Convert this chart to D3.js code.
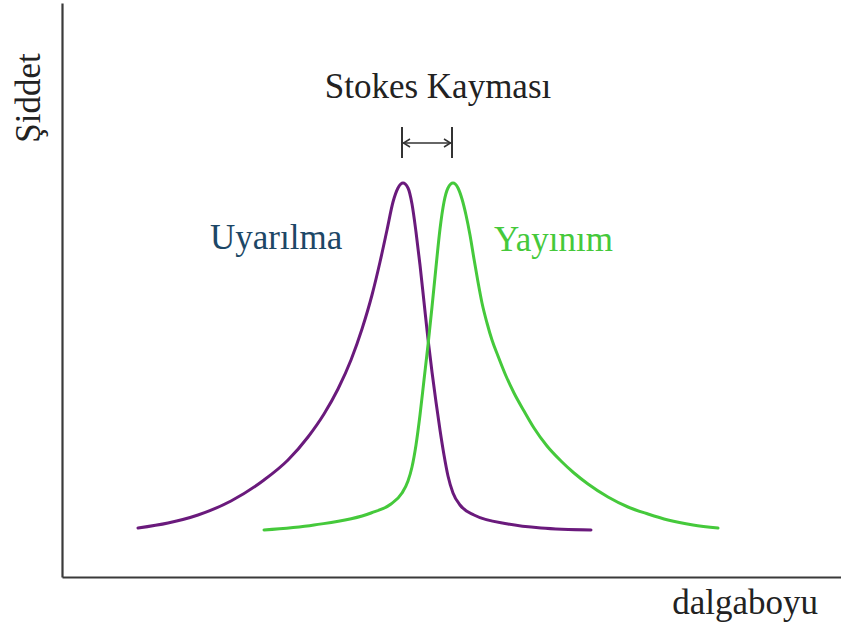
<!DOCTYPE html>
<html>
<head>
<meta charset="utf-8">
<script src="https://cdn.jsdelivr.net/npm/d3@7"></script>
<style>
  html, body { margin: 0; padding: 0; background: #fff; }
  svg { display: block; }
  text { font-family: "Liberation Serif", "Times New Roman", serif; }
</style>
</head>
<body>
<svg id="chart" width="841" height="630"></svg>
<script>
// Wavelength position (arbitrary units) and intensity (arbitrary units)
const excitationX = [76, 106, 136, 169, 202, 226, 246, 262, 276, 289, 300, 310, 318, 325, 331, 336, 341, 346, 350, 354, 358, 362, 366, 370, 374, 378, 382, 386, 391, 398, 412, 446, 479, 529];
const excitationY = [49, 54, 62, 76, 97, 117, 140, 163, 188, 217, 248, 282, 315, 347, 375, 389, 394, 389, 373, 345, 312, 275, 238, 205, 175, 147, 122, 101, 84, 72, 62, 53, 49, 47];

const emissionX = [202, 252, 309, 329, 340, 346, 350, 354, 358, 362, 366, 370, 374, 378, 382, 386, 391, 396, 400, 404, 408, 412, 416, 420, 425, 430, 436, 444, 452, 462, 472, 485, 499, 512, 526, 546, 566, 586, 606, 631, 656];
const emissionY = [47, 52, 64, 73, 84, 96, 110, 132, 162, 197, 232, 270, 310, 348, 375, 389, 394, 389, 378, 362, 342, 318, 295, 274, 254, 237, 221, 201, 184, 166, 149, 131, 116, 104, 93, 80, 70, 63, 57, 52, 49];

const seriesNames = ["Uyarılma", "Yayınım"];
const seriesColors = ["#6a1a7c", "#45c93b"];
const titleText = "Stokes Kayması";
const yAxisLabel = "Şiddet";
const xAxisLabel = "dalgaboyu";

const svg = d3.select("#chart");
const W = 841, H = 630;
const margin = { left: 62, right: 0, top: 3, bottom: 53 };

const x = d3.scaleLinear().domain([0, 779]).range([margin.left, W - margin.right]);
const y = d3.scaleLinear().domain([0, 574]).range([H - margin.bottom, margin.top]);

const excitation = excitationX.map((v, i) => ({ x: v, y: excitationY[i] }));
const emission = emissionX.map((v, i) => ({ x: v, y: emissionY[i] }));
const series = [excitation, emission];

// Axes (no ticks)
const xAxis = d3.axisBottom(x).tickValues([]).tickSizeOuter(0);
const yAxis = d3.axisLeft(y).tickValues([]).tickSizeOuter(0);
svg.append("g").attr("transform", `translate(0,${y(0)})`).call(xAxis)
  .select(".domain").attr("stroke", "#3a3a3a").attr("stroke-width", 2.2);
svg.append("g").attr("transform", `translate(${x(0)},0)`).call(yAxis)
  .select(".domain").attr("stroke", "#3a3a3a").attr("stroke-width", 2.2);

// Curves
const line = d3.line().x(d => x(d.x)).y(d => y(d.y)).curve(d3.curveMonotoneX);
svg.selectAll("path.curve").data(series).join("path")
  .attr("class", "curve")
  .attr("d", line)
  .attr("fill", "none")
  .attr("stroke", (d, i) => seriesColors[i])
  .attr("stroke-width", 3)
  .attr("stroke-linecap", "round");

// Stokes shift marker between the two peaks
const peakEx = d3.greatest(excitation, d => d.y);
const peakEm = d3.greatest(emission, d => d.y);
const xa = x(peakEx.x) - 1, xb = x(peakEm.x) - 1;
const arrowY = 143;
const mk = svg.append("g").attr("stroke", "#333").attr("stroke-width", 2).attr("fill", "none");
mk.append("line").attr("x1", xa).attr("x2", xa).attr("y1", 127).attr("y2", 158);
mk.append("line").attr("x1", xb).attr("x2", xb).attr("y1", 127).attr("y2", 158);
mk.append("line").attr("x1", xa + 1).attr("x2", xb - 1).attr("y1", arrowY).attr("y2", arrowY).attr("stroke-width", 1.5);
mk.append("path").attr("d", `M${xa + 8},${arrowY - 4} L${xa + 1.5},${arrowY} L${xa + 8},${arrowY + 4}`).attr("stroke-width", 1.5);
mk.append("path").attr("d", `M${xb - 8},${arrowY - 4} L${xb - 1.5},${arrowY} L${xb - 8},${arrowY + 4}`).attr("stroke-width", 1.5);

// Texts
svg.append("text").attr("x", 438).attr("y", 98).attr("text-anchor", "middle")
  .attr("font-size", 35).attr("fill", "#222").text(titleText);
svg.append("text").attr("x", 210).attr("y", 249)
  .attr("font-size", 35).attr("fill", "#1d4766").text(seriesNames[0]);
svg.append("text").attr("x", 494).attr("y", 251)
  .attr("font-size", 35).attr("fill", seriesColors[1]).text(seriesNames[1]);
svg.append("text").attr("transform", "translate(40,98) rotate(-90)").attr("text-anchor", "middle")
  .attr("font-size", 35).attr("fill", "#222").text(yAxisLabel);
svg.append("text").attr("x", 818).attr("y", 614).attr("text-anchor", "end")
  .attr("font-size", 35).attr("fill", "#222").text(xAxisLabel);
</script>
</body>
</html>
